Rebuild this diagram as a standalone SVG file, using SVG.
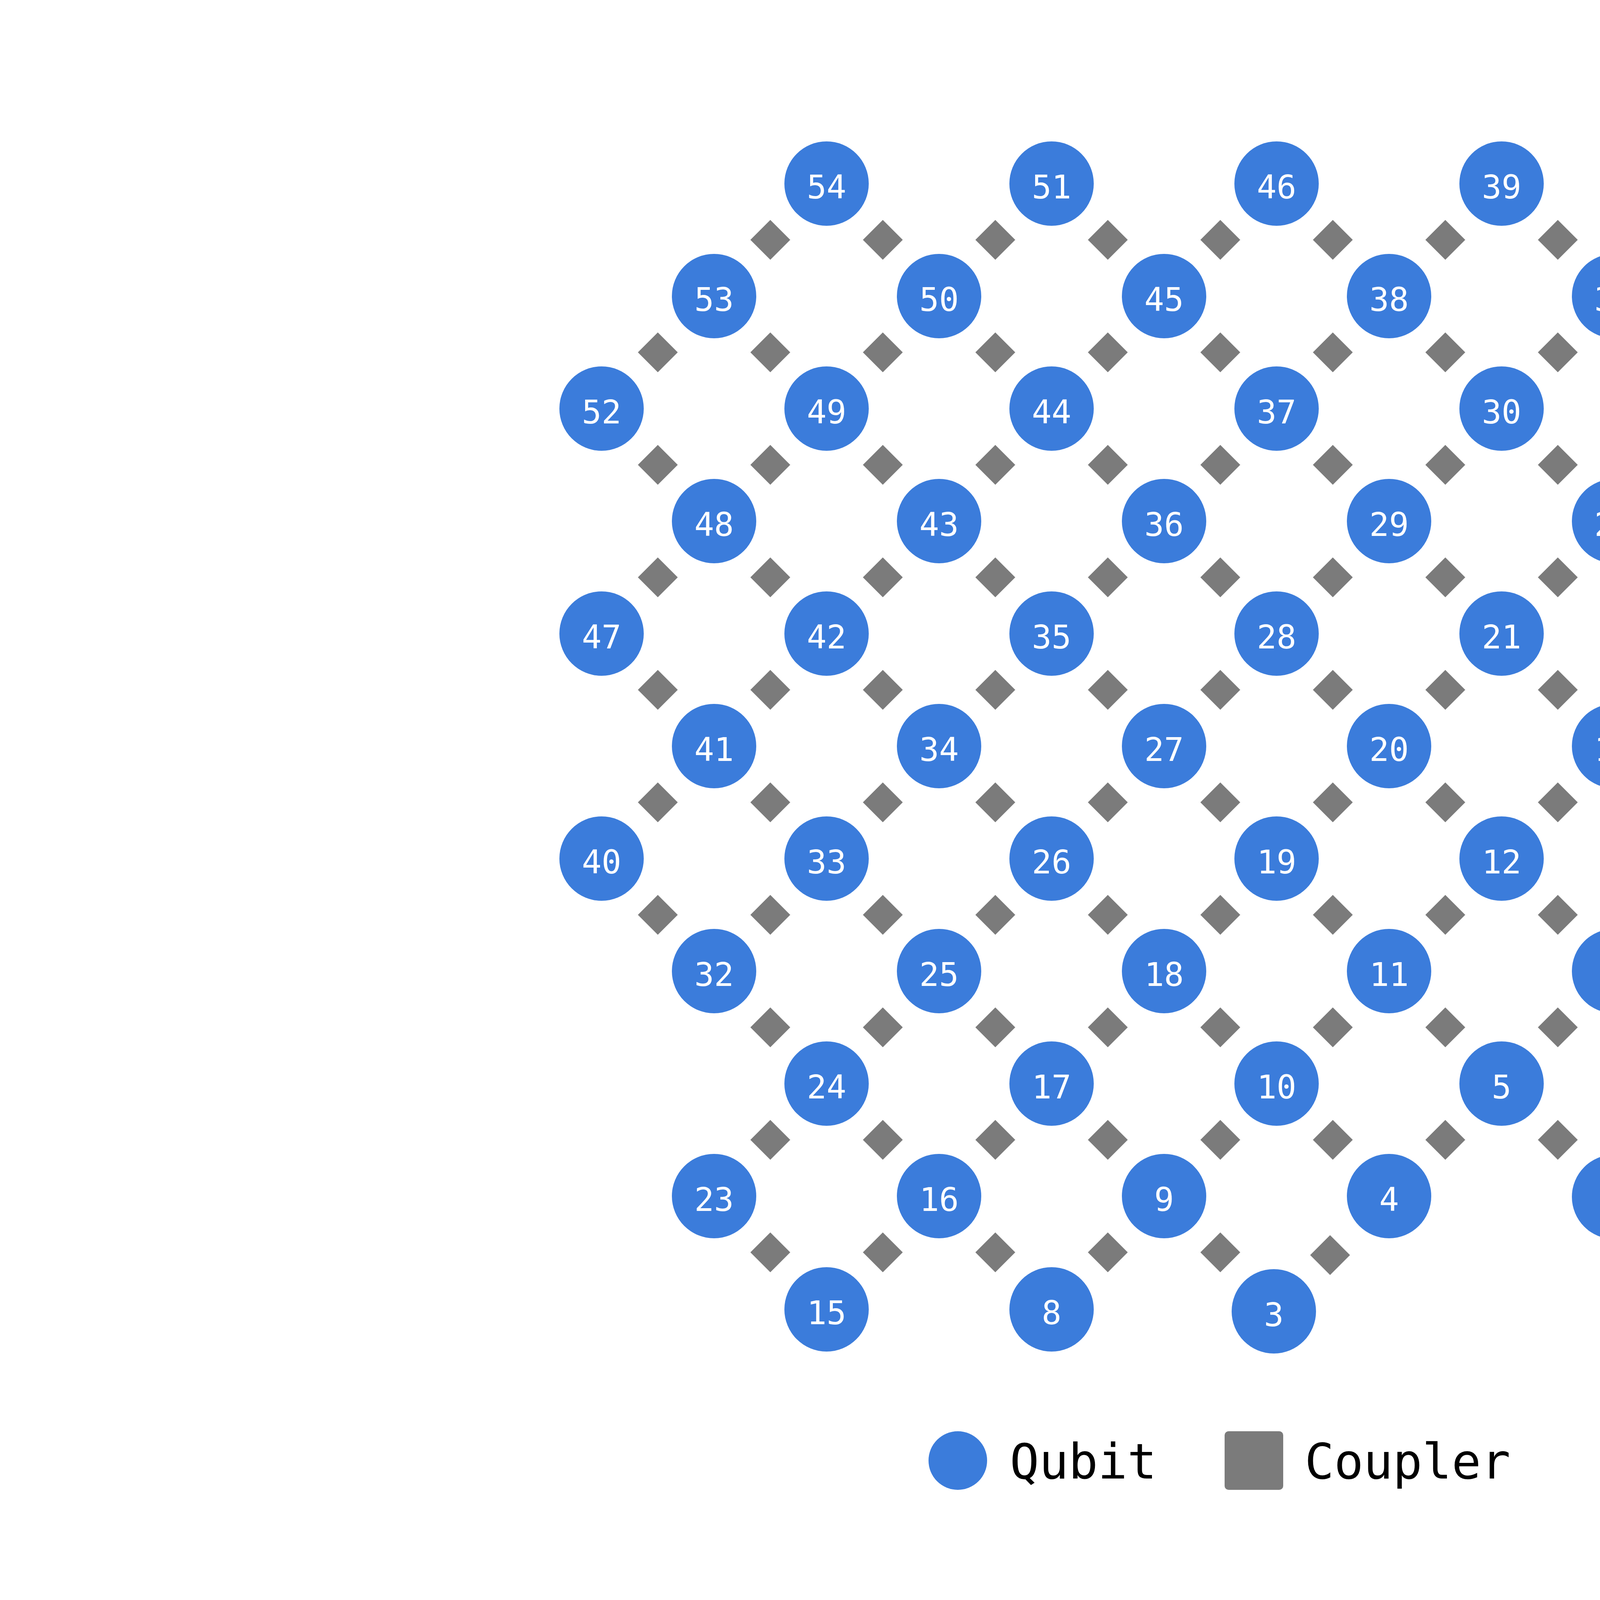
<svg xmlns="http://www.w3.org/2000/svg" xmlns:xlink="http://www.w3.org/1999/xlink" width="6250" height="4167" viewBox="0 0 6250 4167">
<style>
.q circle{fill:#3b7cdb}
.q text{fill:#ffffff;font-family:"DejaVu Sans Mono","Liberation Mono",monospace;font-size:84px;text-anchor:middle}
.cp{fill:#7b7b7b}
.lg{fill:#000000;font-family:"DejaVu Sans Mono","Liberation Mono",monospace;font-size:125px}
</style>
<defs>
<path id="d" d="M0,-51 L51,0 L0,51 L-51,0 Z"/>
</defs>
<rect width="6250" height="4167" fill="#ffffff"/>
<g id="couplers" class="cp">
<use xlink:href="#d" x="1972" y="614"/><use xlink:href="#d" x="2260" y="614"/><use xlink:href="#d" x="2548" y="614"/><use xlink:href="#d" x="2836" y="614"/><use xlink:href="#d" x="3124" y="614"/><use xlink:href="#d" x="3412" y="614"/><use xlink:href="#d" x="3700" y="614"/><use xlink:href="#d" x="3988" y="614"/>
<use xlink:href="#d" x="1684" y="902"/><use xlink:href="#d" x="1972" y="902"/><use xlink:href="#d" x="2260" y="902"/><use xlink:href="#d" x="2548" y="902"/><use xlink:href="#d" x="2836" y="902"/><use xlink:href="#d" x="3124" y="902"/><use xlink:href="#d" x="3412" y="902"/><use xlink:href="#d" x="3700" y="902"/><use xlink:href="#d" x="3988" y="902"/>
<use xlink:href="#d" x="1684" y="1190"/><use xlink:href="#d" x="1972" y="1190"/><use xlink:href="#d" x="2260" y="1190"/><use xlink:href="#d" x="2548" y="1190"/><use xlink:href="#d" x="2836" y="1190"/><use xlink:href="#d" x="3124" y="1190"/><use xlink:href="#d" x="3412" y="1190"/><use xlink:href="#d" x="3700" y="1190"/><use xlink:href="#d" x="3988" y="1190"/>
<use xlink:href="#d" x="1684" y="1478"/><use xlink:href="#d" x="1972" y="1478"/><use xlink:href="#d" x="2260" y="1478"/><use xlink:href="#d" x="2548" y="1478"/><use xlink:href="#d" x="2836" y="1478"/><use xlink:href="#d" x="3124" y="1478"/><use xlink:href="#d" x="3412" y="1478"/><use xlink:href="#d" x="3700" y="1478"/><use xlink:href="#d" x="3988" y="1478"/><use xlink:href="#d" x="4276" y="1478"/>
<use xlink:href="#d" x="1684" y="1766"/><use xlink:href="#d" x="1972" y="1766"/><use xlink:href="#d" x="2260" y="1766"/><use xlink:href="#d" x="2548" y="1766"/><use xlink:href="#d" x="2836" y="1766"/><use xlink:href="#d" x="3124" y="1766"/><use xlink:href="#d" x="3412" y="1766"/><use xlink:href="#d" x="3700" y="1766"/><use xlink:href="#d" x="3988" y="1766"/><use xlink:href="#d" x="4276" y="1766"/>
<use xlink:href="#d" x="1684" y="2054"/><use xlink:href="#d" x="1972" y="2054"/><use xlink:href="#d" x="2260" y="2054"/><use xlink:href="#d" x="2548" y="2054"/><use xlink:href="#d" x="2836" y="2054"/><use xlink:href="#d" x="3124" y="2054"/><use xlink:href="#d" x="3412" y="2054"/><use xlink:href="#d" x="3700" y="2054"/><use xlink:href="#d" x="3988" y="2054"/><use xlink:href="#d" x="4276" y="2054"/>
<use xlink:href="#d" x="1684" y="2342"/><use xlink:href="#d" x="1972" y="2342"/><use xlink:href="#d" x="2260" y="2342"/><use xlink:href="#d" x="2548" y="2342"/><use xlink:href="#d" x="2836" y="2342"/><use xlink:href="#d" x="3124" y="2342"/><use xlink:href="#d" x="3412" y="2342"/><use xlink:href="#d" x="3700" y="2342"/><use xlink:href="#d" x="3988" y="2342"/><use xlink:href="#d" x="4276" y="2342"/>
<use xlink:href="#d" x="1972" y="2630"/><use xlink:href="#d" x="2260" y="2630"/><use xlink:href="#d" x="2548" y="2630"/><use xlink:href="#d" x="2836" y="2630"/><use xlink:href="#d" x="3124" y="2630"/><use xlink:href="#d" x="3412" y="2630"/><use xlink:href="#d" x="3700" y="2630"/><use xlink:href="#d" x="3988" y="2630"/><use xlink:href="#d" x="4276" y="2630"/>
<use xlink:href="#d" x="1972" y="2918"/><use xlink:href="#d" x="2260" y="2918"/><use xlink:href="#d" x="2548" y="2918"/><use xlink:href="#d" x="2836" y="2918"/><use xlink:href="#d" x="3124" y="2918"/><use xlink:href="#d" x="3412" y="2918"/><use xlink:href="#d" x="3700" y="2918"/><use xlink:href="#d" x="3988" y="2918"/><use xlink:href="#d" x="4276" y="2918"/>
<use xlink:href="#d" x="1972" y="3206"/><use xlink:href="#d" x="2260" y="3206"/><use xlink:href="#d" x="2548" y="3206"/><use xlink:href="#d" x="2836" y="3206"/><use xlink:href="#d" x="3124" y="3206"/><use xlink:href="#d" x="3405" y="3213"/>
</g>
<g id="qubits" class="q">
<g id="q54" transform="translate(2116,470)"><circle r="108"/><text y="38">54</text></g>
<g id="q51" transform="translate(2692,470)"><circle r="108"/><text y="38">51</text></g>
<g id="q46" transform="translate(3268,470)"><circle r="108"/><text y="38">46</text></g>
<g id="q39" transform="translate(3844,470)"><circle r="108"/><text y="38">39</text></g>
<g id="q53" transform="translate(1828,758)"><circle r="108"/><text y="38">53</text></g>
<g id="q50" transform="translate(2404,758)"><circle r="108"/><text y="38">50</text></g>
<g id="q45" transform="translate(2980,758)"><circle r="108"/><text y="38">45</text></g>
<g id="q38" transform="translate(3556,758)"><circle r="108"/><text y="38">38</text></g>
<g id="q31" transform="translate(4132,758)"><circle r="108"/><text y="38">31</text></g>
<g id="q52" transform="translate(1540,1046)"><circle r="108"/><text y="38">52</text></g>
<g id="q49" transform="translate(2116,1046)"><circle r="108"/><text y="38">49</text></g>
<g id="q44" transform="translate(2692,1046)"><circle r="108"/><text y="38">44</text></g>
<g id="q37" transform="translate(3268,1046)"><circle r="108"/><text y="38">37</text></g>
<g id="q30" transform="translate(3844,1046)"><circle r="108"/><text y="38">30</text></g>
<g id="q48" transform="translate(1828,1334)"><circle r="108"/><text y="38">48</text></g>
<g id="q43" transform="translate(2404,1334)"><circle r="108"/><text y="38">43</text></g>
<g id="q36" transform="translate(2980,1334)"><circle r="108"/><text y="38">36</text></g>
<g id="q29" transform="translate(3556,1334)"><circle r="108"/><text y="38">29</text></g>
<g id="q22" transform="translate(4132,1334)"><circle r="108"/><text y="38">22</text></g>
<g id="q47" transform="translate(1540,1622)"><circle r="108"/><text y="38">47</text></g>
<g id="q42" transform="translate(2116,1622)"><circle r="108"/><text y="38">42</text></g>
<g id="q35" transform="translate(2692,1622)"><circle r="108"/><text y="38">35</text></g>
<g id="q28" transform="translate(3268,1622)"><circle r="108"/><text y="38">28</text></g>
<g id="q21" transform="translate(3844,1622)"><circle r="108"/><text y="38">21</text></g>
<g id="q14" transform="translate(4416,1621)"><circle r="108"/><text y="38">14</text></g>
<g id="q41" transform="translate(1828,1910)"><circle r="108"/><text y="38">41</text></g>
<g id="q34" transform="translate(2404,1910)"><circle r="108"/><text y="38">34</text></g>
<g id="q27" transform="translate(2980,1910)"><circle r="108"/><text y="38">27</text></g>
<g id="q20" transform="translate(3556,1910)"><circle r="108"/><text y="38">20</text></g>
<g id="q13" transform="translate(4132,1910)"><circle r="108"/><text y="38">13</text></g>
<g id="q40" transform="translate(1540,2198)"><circle r="108"/><text y="38">40</text></g>
<g id="q33" transform="translate(2116,2198)"><circle r="108"/><text y="38">33</text></g>
<g id="q26" transform="translate(2692,2198)"><circle r="108"/><text y="38">26</text></g>
<g id="q19" transform="translate(3268,2198)"><circle r="108"/><text y="38">19</text></g>
<g id="q12" transform="translate(3844,2198)"><circle r="108"/><text y="38">12</text></g>
<g id="q7" transform="translate(4424,2196)"><circle r="108"/><text y="38">7</text></g>
<g id="q32" transform="translate(1828,2486)"><circle r="108"/><text y="38">32</text></g>
<g id="q25" transform="translate(2404,2486)"><circle r="108"/><text y="38">25</text></g>
<g id="q18" transform="translate(2980,2486)"><circle r="108"/><text y="38">18</text></g>
<g id="q11" transform="translate(3556,2486)"><circle r="108"/><text y="38">11</text></g>
<g id="q6" transform="translate(4132,2486)"><circle r="108"/><text y="38">6</text></g>
<g id="q24" transform="translate(2116,2774)"><circle r="108"/><text y="38">24</text></g>
<g id="q17" transform="translate(2692,2774)"><circle r="108"/><text y="38">17</text></g>
<g id="q10" transform="translate(3268,2774)"><circle r="108"/><text y="38">10</text></g>
<g id="q5" transform="translate(3844,2774)"><circle r="108"/><text y="38">5</text></g>
<g id="q2" transform="translate(4418,2778)"><circle r="108"/><text y="38">2</text></g>
<g id="q23" transform="translate(1828,3062)"><circle r="108"/><text y="38">23</text></g>
<g id="q16" transform="translate(2404,3062)"><circle r="108"/><text y="38">16</text></g>
<g id="q9" transform="translate(2980,3062)"><circle r="108"/><text y="38">9</text></g>
<g id="q4" transform="translate(3556,3062)"><circle r="108"/><text y="38">4</text></g>
<g id="q1" transform="translate(4132,3064)"><circle r="108"/><text y="38">1</text></g>
<g id="q15" transform="translate(2116,3352)"><circle r="108"/><text y="38">15</text></g>
<g id="q8" transform="translate(2692,3352)"><circle r="108"/><text y="38">8</text></g>
<g id="q3" transform="translate(3261,3357)"><circle r="108"/><text y="38">3</text></g>
</g>
<g id="legend">
<circle cx="2452" cy="3739" r="75" fill="#3b7cdb"/>
<text class="lg" x="2585" y="3785">Qubit</text>
<rect x="3135" y="3664" width="150" height="150" rx="10" fill="#7b7b7b"/>
<text class="lg" x="3340" y="3785">Coupler</text>
</g>
</svg>
